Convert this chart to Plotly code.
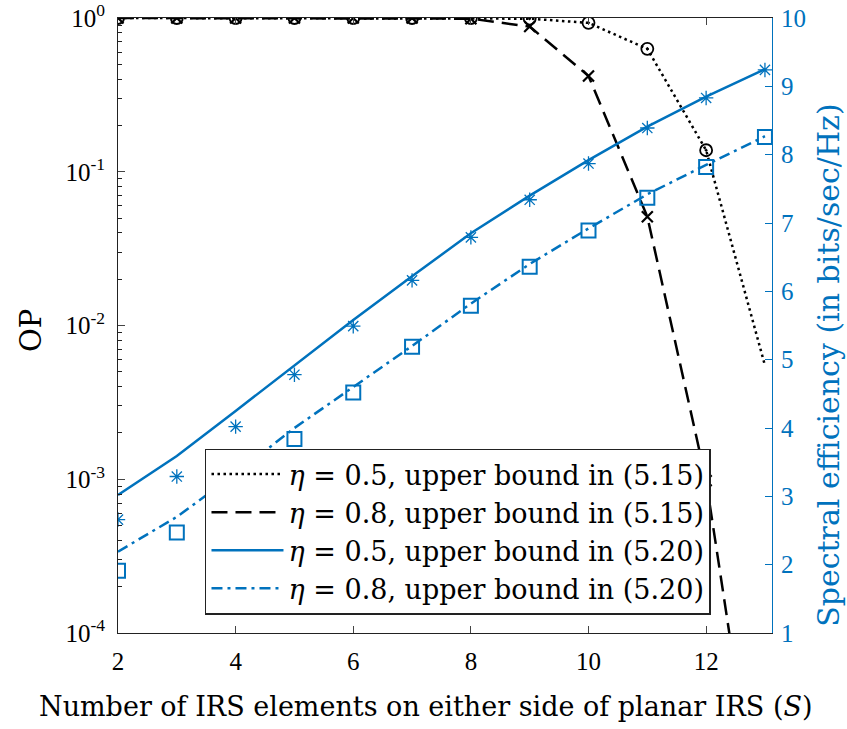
import plotly.graph_objects as go

# ---------------- data ----------------
S = [2, 3, 4, 5, 6, 7, 8, 9, 10, 11, 12, 13]

# Outage probability, upper bound (5.15)
op_eta05_bound = [1.0, 1.0, 1.0, 1.0, 1.0, 1.0, 1.0, 0.99, 0.93, 0.63, 0.138, 0.0055]
op_eta08_bound = [1.0, 1.0, 1.0, 1.0, 1.0, 1.0, 0.99, 0.88, 0.42, 0.051, 9.8e-4, 3e-6]
# simulated OP markers
S_op_sim = [2, 3, 4, 5, 6, 7, 8, 9, 10, 11, 12]
op_eta05_sim = [1.0, 1.0, 1.0, 1.0, 1.0, 1.0, 1.0, 0.99, 0.93, 0.63, 0.138]
op_eta08_sim = [1.0, 1.0, 1.0, 1.0, 1.0, 1.0, 0.99, 0.88, 0.42, 0.051, 9.8e-4]

# Spectral efficiency, upper bound (5.20)
se_eta05_bound = [3.02, 3.59, 4.25, 4.91, 5.58, 6.22, 6.85, 7.40, 7.92, 8.41, 8.85, 9.25]
se_eta08_bound = [2.19, 2.70, 3.33, 4.00, 4.60, 5.20, 5.82, 6.40, 6.92, 7.42, 7.85, 8.27]
# simulated SE markers
se_eta05_sim = [2.66, 3.29, 4.02, 4.78, 5.49, 6.16, 6.79, 7.34, 7.87, 8.39, 8.83, 9.24]
se_eta08_sim = [1.91, 2.47, 3.15, 3.84, 4.52, 5.19, 5.79, 6.36, 6.89, 7.37, 7.82, 8.26]

legend_names = [
    "<i>η</i> = 0.5, upper bound in (5.15)",
    "<i>η</i> = 0.8, upper bound in (5.15)",
    "<i>η</i> = 0.5, upper bound in (5.20)",
    "<i>η</i> = 0.8, upper bound in (5.20)",
]

x_title = "Number of IRS elements on either side of planar IRS (<i>S</i>)"
y_title = "OP"
y2_title = "Spectral efficiency (in bits/sec/Hz)"

x_ticks = [2, 4, 6, 8, 10, 12]
op_tickvals = [1e-4, 1e-3, 1e-2, 1e-1, 1]
op_ticktext = ["10<sup>-4</sup>", "10<sup>-3</sup>", "10<sup>-2</sup>", "10<sup>-1</sup>", "10<sup>0</sup>"]
se_ticks = [1, 2, 3, 4, 5, 6, 7, 8, 9, 10]

# ---------------- style ----------------
BLUE = "#0072BD"
TICKFONT = "Liberation Serif"
TEXTFONT = "DejaVu Serif"
FS = 25

fig = go.Figure()

fig.add_trace(go.Scatter(x=S, y=op_eta05_bound, mode="lines", name=legend_names[0],
                         line=dict(color="black", width=2.5, dash="2.5px,3.5px"),
                         legendgroup="a", yaxis="y"))
fig.add_trace(go.Scatter(x=S, y=op_eta08_bound, mode="lines", name=legend_names[1],
                         line=dict(color="black", width=2.5, dash="16px,8px"),
                         legendgroup="b", yaxis="y"))
fig.add_trace(go.Scatter(x=S, y=se_eta05_bound, mode="lines", name=legend_names[2],
                         line=dict(color=BLUE, width=2.5),
                         legendgroup="c", yaxis="y2"))
fig.add_trace(go.Scatter(x=S, y=se_eta08_bound, mode="lines", name=legend_names[3],
                         line=dict(color=BLUE, width=2.5, dash="11px,5px,3px,5px"),
                         legendgroup="d", yaxis="y2"))

fig.add_trace(go.Scatter(x=S_op_sim, y=op_eta05_sim, mode="markers", showlegend=False,
                         marker=dict(symbol="circle-open-dot", size=12, color="black",
                                     line=dict(width=1.8, color="black")), yaxis="y"))
fig.add_trace(go.Scatter(x=S_op_sim, y=op_eta08_sim, mode="markers", showlegend=False,
                         marker=dict(symbol="x-thin-open", size=11, color="black",
                                     line=dict(width=2.2, color="black")), yaxis="y"))
fig.add_trace(go.Scatter(x=S, y=se_eta05_sim, mode="markers", showlegend=False,
                         marker=dict(symbol="asterisk-open", size=12, color=BLUE,
                                     line=dict(width=1.3, color=BLUE)), yaxis="y2"))
fig.add_trace(go.Scatter(x=S, y=se_eta08_sim, mode="markers", showlegend=False,
                         marker=dict(symbol="square-open", size=14, color=BLUE,
                                     line=dict(width=2, color=BLUE)), yaxis="y2"))

fig.update_layout(
    width=847, height=729,
    margin=dict(l=118, r=75, t=18, b=96),
    paper_bgcolor="white", plot_bgcolor="white",
    font=dict(family=TICKFONT, size=FS, color="black"),
    showlegend=True,
    legend=dict(
        x=0.133, y=0.3, xanchor="left", yanchor="top",
        bgcolor="white", bordercolor="#222222", borderwidth=1.5,
        font=dict(family=TEXTFONT, size=27, color="black"),
        itemwidth=72, tracegroupgap=0, traceorder="grouped",
    ),
    xaxis=dict(
        range=[2, 13.12], tickvals=x_ticks, ticks="inside", ticklen=7,
        showline=True, linecolor="#222222", linewidth=1, mirror="ticks",
        showgrid=False, zeroline=False, automargin=False, ticklabelstandoff=6,
        ticklabeloverflow="allow", tickfont=dict(size=FS),
    ),
    yaxis=dict(
        type="log", range=[-4, 0], tickvals=op_tickvals, ticktext=op_ticktext,
        ticks="inside", ticklen=7, showline=True, linecolor="#222222", linewidth=1,
        showgrid=False, zeroline=False, automargin=False, ticklabelstandoff=7,
        ticklabeloverflow="allow",
        minor=dict(ticks="inside", ticklen=4, dtick="D1", tickcolor="#222222", showgrid=False),
        tickfont=dict(size=FS),
    ),
    yaxis2=dict(
        overlaying="y", side="right", range=[1, 10], tickvals=se_ticks,
        ticks="inside", ticklen=7, tickcolor=BLUE, showline=True, linecolor=BLUE, linewidth=1.2,
        showgrid=False, zeroline=False, automargin=False, ticklabelstandoff=3,
        ticklabeloverflow="allow", tickfont=dict(size=FS, color=BLUE),
    ),
    annotations=[
        dict(text=x_title, xref="paper", yref="paper", x=0.4709, y=-0.1203,
             xanchor="center", yanchor="middle", showarrow=False,
             font=dict(family=TEXTFONT, size=27, color="black")),
        dict(text=y_title, xref="paper", yref="paper", x=-0.133, y=0.491,
             xanchor="center", yanchor="middle", showarrow=False, textangle=-90,
             font=dict(family=TEXTFONT, size=29, color="black")),
        dict(text=y2_title, xref="paper", yref="paper", x=1.087, y=0.436,
             xanchor="center", yanchor="middle", showarrow=False, textangle=-90,
             font=dict(family=TEXTFONT, size=30, color=BLUE)),
    ],
)

fig.write_html("out.html", config={"displayModeBar": False},
               post_script="document.body.style.margin='0';")
